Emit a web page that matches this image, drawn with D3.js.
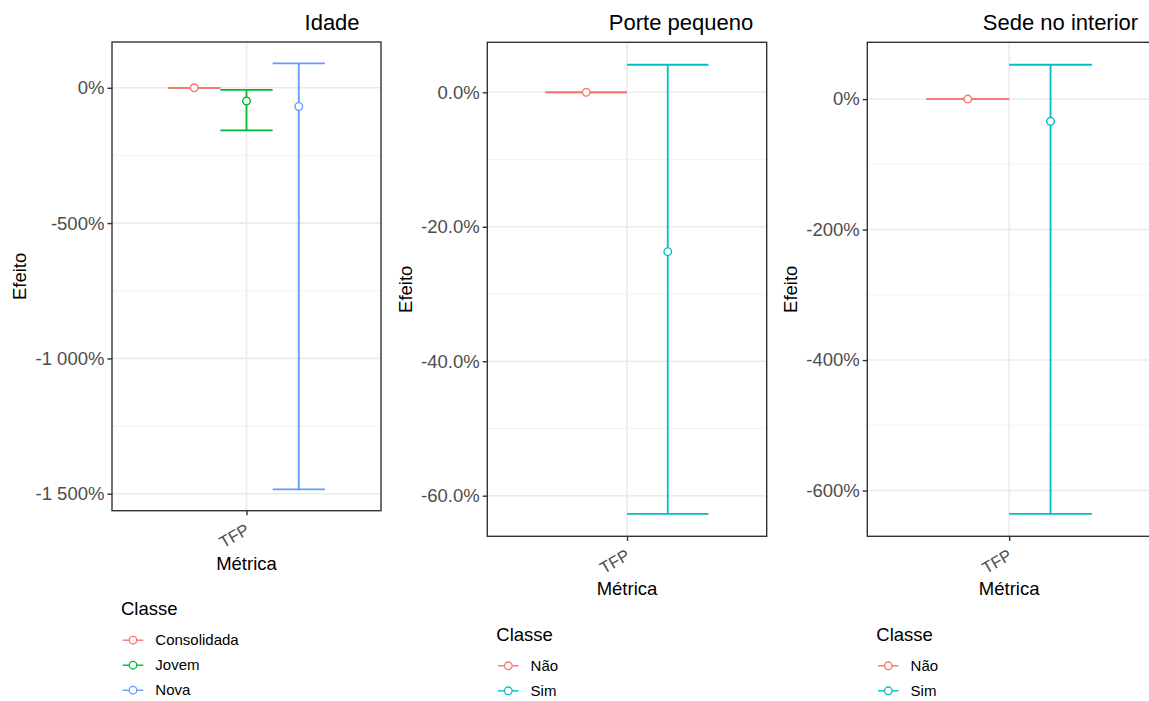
<!DOCTYPE html>
<html>
<head>
<meta charset="utf-8">
<script src="https://cdn.jsdelivr.net/npm/d3@7"></script>
<style>
  html, body { margin: 0; padding: 0; background: #ffffff; }
  svg { display: block; font-family: "Liberation Sans", Arial, Helvetica, sans-serif; }
</style>
</head>
<body>
<svg id="chart" width="1149" height="701"></svg>
<script>
// Effect estimates (in %) with confidence bounds, one facet per characteristic
const metricas = ["TFP"];

const idadeClasses = ["Consolidada", "Jovem", "Nova"];
const idadeEstimate = [0, -48.8, -69];
const idadeLower = [0, -157, -1484];
const idadeUpper = [0, -8, 90.5];
const idadeTicks = [0, -500, -1000, -1500];

const porteClasses = ["Não", "Sim"];
const porteEstimate = [0, -23.7];
const porteLower = [0, -62.7];
const porteUpper = [0, 4.1];
const porteTicks = [0, -20, -40, -60];

const sedeClasses = ["Não", "Sim"];
const sedeEstimate = [0, -34.1];
const sedeLower = [0, -635.7];
const sedeUpper = [0, 52.6];
const sedeTicks = [0, -200, -400, -600];

const hue3 = ["#F8766D", "#00BA38", "#619CFF"];
const hue2 = ["#F8766D", "#00BFC4"];

const locale = d3.formatLocale({ decimal: ".", thousands: " ", grouping: [3], currency: ["", ""], minus: "-" });
const fmtThousands = locale.format(",d");
const fmtOneDecimal = locale.format(".1f");
const fmtInt = locale.format("d");

const panels = [
  { title: "Idade", classes: idadeClasses, est: idadeEstimate, lo: idadeLower, hi: idadeUpper,
    ticks: idadeTicks, fmt: v => fmtThousands(v) + "%", colors: hue3,
    box: { left: 112, right: 381, top: 42, bottom: 510.7 } },
  { title: "Porte pequeno", classes: porteClasses, est: porteEstimate, lo: porteLower, hi: porteUpper,
    ticks: porteTicks, fmt: v => fmtOneDecimal(v) + "%", colors: hue2,
    box: { left: 487.3, right: 766.7, top: 42.3, bottom: 536.3 } },
  { title: "Sede no interior", classes: sedeClasses, est: sedeEstimate, lo: sedeLower, hi: sedeUpper,
    ticks: sedeTicks, fmt: v => fmtInt(v) + "%", colors: hue2,
    box: { left: 867.3, right: 1151, top: 42.3, bottom: 536.3 } }
];

const svg = d3.select("#chart");
const dodgeWidth = 0.7;
const gridMajor = "#EBEBEB";
const border = "#333333";
const tickLen = 4.6;

panels.forEach(p => {
  const b = p.box;
  const g = svg.append("g");

  // y scale with 5% expansion on each side
  const ymin = d3.min(p.lo), ymax = d3.max(p.hi);
  const pad = (ymax - ymin) * 0.05;
  const y = d3.scaleLinear().domain([ymin - pad, ymax + pad]).range([b.bottom, b.top]);

  // discrete x: one category at position 1, expanded by 0.6
  const xPos = d3.scaleOrdinal().domain(metricas).range([1]);
  const x = d3.scaleLinear().domain([0.4, 1.6]).range([b.left, b.right]);

  // clip for panel contents
  const clipId = "clip-" + p.title.replace(/\s+/g, "-");
  svg.append("clipPath").attr("id", clipId)
    .append("rect").attr("x", b.left).attr("y", b.top)
    .attr("width", b.right - b.left).attr("height", b.bottom - b.top);

  const inner = g.append("g").attr("clip-path", `url(#${clipId})`);

  // minor gridlines halfway between major ticks
  const step = p.ticks[0] - p.ticks[1];
  const minor = [];
  for (let v = p.ticks[0] + step / 2; v > ymin - pad; v -= step) minor.push(v);
  inner.selectAll(".minor").data(minor).join("line")
    .attr("x1", b.left).attr("x2", b.right)
    .attr("y1", d => y(d)).attr("y2", d => y(d))
    .attr("stroke", "#F2F2F2").attr("stroke-width", 0.9);

  inner.selectAll(".major").data(p.ticks).join("line")
    .attr("x1", b.left).attr("x2", b.right)
    .attr("y1", d => y(d)).attr("y2", d => y(d))
    .attr("stroke", gridMajor).attr("stroke-width", 1.6);

  inner.selectAll(".vmajor").data(metricas).join("line")
    .attr("x1", d => x(xPos(d))).attr("x2", d => x(xPos(d)))
    .attr("y1", b.top).attr("y2", b.bottom)
    .attr("stroke", gridMajor).attr("stroke-width", 1.6);

  // error bars dodged within the category
  const n = p.classes.length;
  const slot = dodgeWidth / n;
  const rows = p.classes.map((c, i) => ({
    cls: c, color: p.colors[i],
    cx: xPos("TFP") - dodgeWidth / 2 + slot * (i + 0.5),
    est: p.est[i], lo: p.lo[i], hi: p.hi[i]
  }));

  const eb = inner.selectAll(".eb").data(rows).join("g").attr("stroke", d => d.color)
    .attr("stroke-width", 1.8).attr("fill", "none");
  eb.append("line")
    .attr("x1", d => x(d.cx)).attr("x2", d => x(d.cx))
    .attr("y1", d => y(d.lo)).attr("y2", d => y(d.hi));
  eb.append("line")
    .attr("x1", d => x(d.cx - slot / 2)).attr("x2", d => x(d.cx + slot / 2))
    .attr("y1", d => y(d.hi)).attr("y2", d => y(d.hi));
  eb.append("line")
    .attr("x1", d => x(d.cx - slot / 2)).attr("x2", d => x(d.cx + slot / 2))
    .attr("y1", d => y(d.lo)).attr("y2", d => y(d.lo));
  eb.append("circle")
    .attr("cx", d => x(d.cx)).attr("cy", d => y(d.est)).attr("r", 3.8)
    .attr("fill", "#ffffff").attr("stroke-width", 1.4);

  // panel border
  g.append("rect").attr("x", b.left).attr("y", b.top)
    .attr("width", b.right - b.left).attr("height", b.bottom - b.top)
    .attr("fill", "none").attr("stroke", border).attr("stroke-width", 1.4);

  // y axis
  const yAxis = g.append("g").attr("transform", `translate(${b.left},0)`)
    .call(d3.axisLeft(y).tickValues(p.ticks).tickFormat(p.fmt).tickSize(tickLen).tickPadding(3));
  yAxis.select(".domain").remove();
  yAxis.selectAll(".tick line").attr("stroke", border).attr("stroke-width", 1.4);
  yAxis.selectAll(".tick text").attr("fill", "#4D4D4D")
    .style("font-size", "18.5px").style("font-family", "Liberation Sans, Arial, sans-serif");

  // widest tick label decides where the y title sits
  let labelW = 0;
  yAxis.selectAll(".tick text").each(function () {
    labelW = Math.max(labelW, this.getComputedTextLength());
  });

  // x axis
  const xAxis = g.append("g").attr("transform", `translate(0,${b.bottom})`)
    .call(d3.axisBottom(x).tickValues(metricas.map(xPos)).tickFormat(() => "").tickSize(tickLen));
  xAxis.select(".domain").remove();
  xAxis.selectAll(".tick line").attr("stroke", border).attr("stroke-width", 1.4);
  xAxis.selectAll(".tick").append("text")
    .text((d, i) => metricas[i])
    .attr("transform", "translate(3.5,22.3) rotate(-30)")
    .attr("text-anchor", "end")
    .attr("fill", "#4D4D4D")
    .style("font-size", "16.5px").style("font-family", "Liberation Sans, Arial, sans-serif");

  // axis titles
  g.append("text")
    .attr("x", x(1))
    .attr("y", b.bottom + 59)
    .attr("text-anchor", "middle").attr("fill", "#000")
    .style("font-size", "18.5px").text("Métrica");

  g.append("text")
    .attr("transform", `translate(${b.left - tickLen - 3 - labelW - 9.5},${(b.top + b.bottom) / 2}) rotate(-90)`)
    .attr("text-anchor", "middle").attr("fill", "#000")
    .style("font-size", "18.5px").text("Efeito");

  // facet title, placed at 90% across the panel
  const t = g.append("text").attr("y", 30).attr("fill", "#000")
    .style("font-size", "22px").text(p.title);
  const tw = t.node().getComputedTextLength();
  t.attr("x", b.left + 0.9 * ((b.right - b.left) - tw));

  // legend
  const lg = g.append("g").attr("transform", `translate(${b.left + 9},${b.bottom + 98})`);
  lg.append("text").attr("x", 0).attr("y", 0).attr("dy", "0.35em")
    .attr("fill", "#000").style("font-size", "18.5px").text("Classe");
  const items = lg.selectAll(".item").data(rows).join("g")
    .attr("transform", (d, i) => `translate(0,${31.5 + i * 25})`);
  items.append("line").attr("x1", 1.7).attr("x2", 22.3).attr("y1", 0).attr("y2", 0)
    .attr("stroke", d => d.color).attr("stroke-width", 1.4);
  items.append("circle").attr("cx", 12).attr("cy", 0).attr("r", 3.8)
    .attr("fill", "#fff").attr("stroke", d => d.color).attr("stroke-width", 1.3);
  items.append("text").attr("x", 34.3).attr("y", 0).attr("dy", "0.35em")
    .attr("fill", "#000").style("font-size", "15px").text(d => d.cls);
});
</script>
</body>
</html>
